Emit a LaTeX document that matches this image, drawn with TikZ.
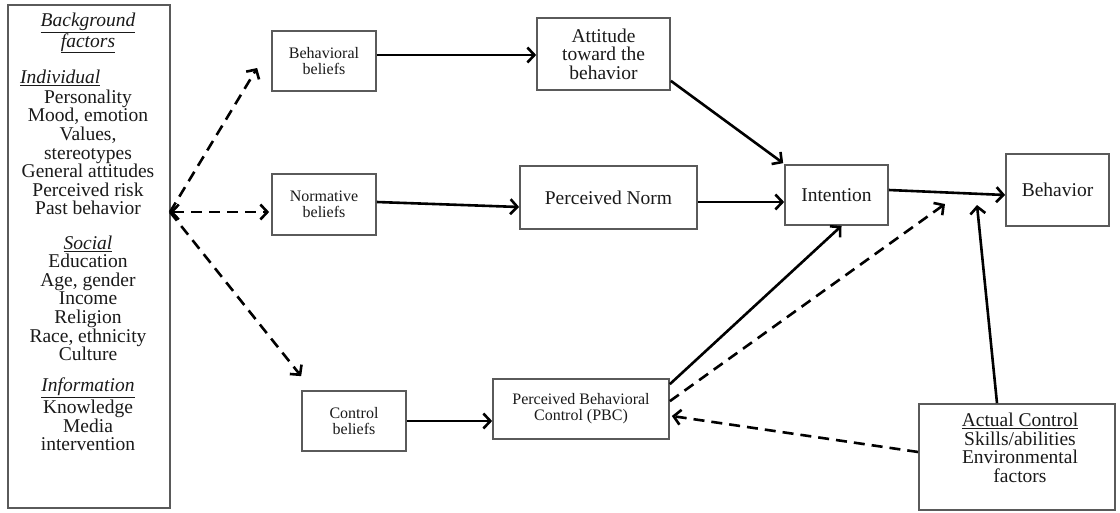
\documentclass[tikz,border=0pt]{standalone}
\usepackage{fontspec}
\setmainfont{Liberation Serif}
\usetikzlibrary{arrows.meta}
\definecolor{boxgray}{HTML}{5A5A5A}
\definecolor{txt}{HTML}{1A1A1A}
\tikzset{
  box/.style={draw=boxgray, line width=1.7pt, inner sep=0pt, text=txt},
  big/.style={font=\fontsize{19.5}{18.6}\selectfont, align=center, text=txt, inner sep=0pt},
  small/.style={font=\fontsize{16}{16}\selectfont, align=center, text=txt},
  tip/.style={},
  conn/.style={line width=2.6pt, -{Straight Barb[length=7pt,width=15pt]}},
  dconn/.style={conn, dash pattern=on 11pt off 7pt}
}
\begin{document}
\begin{tikzpicture}[x=1pt,y=-1pt]
\useasboundingbox (0,0) rectangle (1120,512);
\fill[white] (0,0) rectangle (1120,512);
% background factors
\node[box, minimum width=162pt, minimum height=503pt] (bg) at (89,256.5) {};
\node[big] (bgt) at (88,33) {\textit{\underline{Background}}\\\textit{\underline{factors}}};
\node[big, anchor=west] (ind) at (20,78) {\textit{\underline{Individual}}};
\node[big] (indl) at (88,152.5) {Personality\\Mood, emotion\\Values,\\stereotypes\\General attitudes\\Perceived risk\\Past behavior};
\node[big] (soc) at (88,244) {\textit{\underline{Social}}};
\node[big] (socl) at (88,307.5) {Education\\Age, gender\\Income\\Religion\\Race, ethnicity\\Culture};
\node[big] (inf) at (88,388) {\textit{\underline{Information}}};
\node[big] (infl) at (88,425.5) {Knowledge\\Media\\intervention};
% boxes
\node[box, small, minimum width=104pt, minimum height=60pt] (bb) at (324,61) {Behavioral\\beliefs};
\node[box, big, minimum width=133pt, minimum height=72pt] (att) at (603.5,54) {Attitude\\toward the\\behavior};
\node[box, small, minimum width=104pt, minimum height=61pt] (nb) at (324,204.5) {Normative\\beliefs};
\node[box, big, minimum width=177pt, minimum height=63pt] (pn) at (608.5,197.5) {Perceived Norm};
\node[box, big, minimum width=103pt, minimum height=60pt] (int) at (836.5,195) {Intention};
\node[box, big, minimum width=103pt, minimum height=72pt] (beh) at (1057.5,190) {Behavior};
\node[box, small, minimum width=104pt, minimum height=60pt] (cb) at (354,421) {Control\\beliefs};
\node[box, small, minimum width=176pt, minimum height=60pt] (pbc) at (581,409) {Perceived Behavioral\\Control (PBC)};
\node[box, minimum width=196pt, minimum height=106pt] (ac) at (1017,457) {};
\node[big] (actxt) at (1020,448) {\underline{Actual Control}\\Skills/abilities\\Environmental\\factors};
% coordinates
\coordinate (bgout) at (170,212);
\coordinate (ibm) at (945,204);
\coordinate (ibm2) at (977,205);
% solid connectors
\draw[conn] (bb.east |- 0,55) -- (att.west |- 0,55);
\draw[conn] ([yshift=2.5pt]nb.east) -- ([yshift=-9.5pt]pn.west);
\draw[conn] ([yshift=-4.5pt]pn.east) -- ([yshift=-7pt]int.west);
\draw[conn] ([yshift=10pt]att.south east) -- ([xshift=-1pt,yshift=1pt]int.north west);
\draw[conn] ([yshift=-6pt]pbc.north east) -- ([xshift=5pt]int.south);
\draw[conn] ([yshift=5pt]int.east) -- ([yshift=-5pt]beh.west);
\draw[conn] ([xshift=-20pt]ac.north) -- (ibm2);
\draw[conn] (cb.east) -- (pbc.west |- cb.east);
% dashed connectors
\draw[dconn] ([yshift=-23pt]pbc.north east) -- (ibm);
\draw[dconn] ([yshift=5pt]ac.west) -- ([xshift=2pt,yshift=-7pt]pbc.east);
\draw[dconn] (bgout) -- ([xshift=-14pt,yshift=-7pt]bb.west);
\draw[dconn, {Straight Barb[length=7pt,width=15pt]}-{Straight Barb[length=7pt,width=15pt]}] (bgout) -- ([xshift=-2pt,yshift=-7.5pt]nb.west);
\draw[dconn] (bgout) -- ([yshift=14pt]cb.north west);
\end{tikzpicture}
\end{document}
